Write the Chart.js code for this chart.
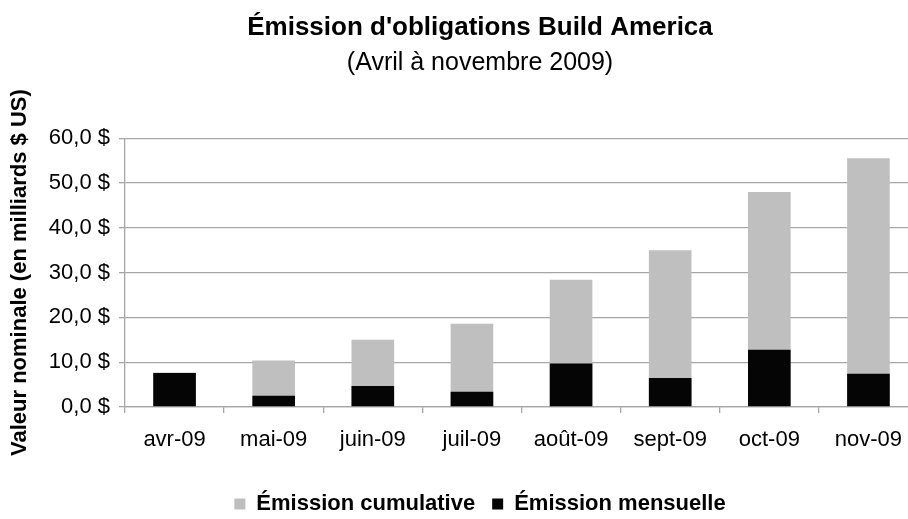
<!DOCTYPE html>
<html lang="fr">
<head>
<meta charset="utf-8">
<title>Émission d'obligations Build America</title>
<script src="https://cdn.jsdelivr.net/npm/chart.js@4.4.1/dist/chart.umd.min.js"></script>
<style>
  html, body { margin: 0; padding: 0; background: #ffffff; overflow: hidden; }
  #wrap { width: 908px; height: 519px; overflow: hidden; position: relative; }
  canvas { display: block; }
</style>
</head>
<body>
<div id="wrap"><canvas id="chart" width="960" height="525"></canvas></div>
<script>
// Mois de la période
const months = ['avr-09', 'mai-09', 'juin-09', 'juil-09', 'août-09', 'sept-09', 'oct-09', 'nov-09'];
// Émission cumulative (milliards $ US)
const cumulative = [7.7, 10.4, 15.0, 18.6, 28.4, 35.0, 48.0, 55.5];
// Émission mensuelle (milliards $ US)
const monthly = [7.6, 2.5, 4.7, 3.4, 9.7, 6.5, 12.8, 7.4];
// Graduations de l'axe des valeurs
const yTicks = [0, 10, 20, 30, 40, 50, 60];

const TITLE = "Émission d'obligations Build America";
const SUBTITLE = '(Avril à novembre 2009)';
const Y_TITLE = 'Valeur nominale (en milliards $ US)';

Chart.defaults.font.family = "'Liberation Sans', Arial, Helvetica, sans-serif";
Chart.defaults.color = '#000000';

const AXIS_GREY = '#a6a6a6';

new Chart(document.getElementById('chart'), {
  type: 'bar',
  data: {
    labels: months,
    datasets: [
      {
        label: 'Émission mensuelle',
        data: monthly,
        backgroundColor: '#050505',
        borderWidth: 0,
        grouped: false,
        categoryPercentage: 1,
        barPercentage: 0.43
      },
      {
        label: 'Émission cumulative',
        data: cumulative,
        backgroundColor: '#bfbfbf',
        borderWidth: 0,
        grouped: false,
        categoryPercentage: 1,
        barPercentage: 0.43
      }
    ]
  },
  options: {
    responsive: false,
    animation: false,
    layout: { padding: 0 },
    scales: {
      x: {
        offset: true,
        grid: {
          offset: true,
          drawOnChartArea: false,
          drawTicks: true,
          tickLength: 6,
          color: AXIS_GREY,
          lineWidth: 1.3
        },
        border: { display: true, color: AXIS_GREY, width: 1.3 },
        ticks: {
          font: { size: 22 },
          color: '#000000',
          padding: 14,
          maxRotation: 0,
          autoSkip: false
        },
        afterFit(scale) { scale.height = 69; }
      },
      y: {
        min: 0,
        max: 60,
        afterBuildTicks(scale) { scale.ticks = yTicks.map(v => ({ value: v })); },
        grid: {
          color: AXIS_GREY,
          lineWidth: 1.3,
          tickLength: 6
        },
        border: { display: true, color: AXIS_GREY, width: 1.3 },
        ticks: {
          font: { size: 22 },
          color: '#000000',
          padding: 9,
          callback: v => v.toFixed(1).replace('.', ',') + ' $'
        },
        title: {
          display: true,
          text: Y_TITLE,
          font: { size: 22, weight: 'bold' },
          color: '#000000',
          padding: { top: 7, bottom: 0 }
        },
        afterFit(scale) { scale.width = 125; }
      },
      // marge droite de la zone de traçage
      spacer: {
        type: 'linear',
        position: 'right',
        display: true,
        grid: { display: false, drawTicks: false },
        border: { display: false },
        ticks: { display: false },
        afterFit(scale) { scale.width = 42; }
      }
    },
    plugins: {
      title: {
        display: true,
        text: TITLE,
        font: { size: 26, weight: 'bold', lineHeight: 1.2 },
        color: '#000000',
        padding: { top: 12, bottom: 0 }
      },
      subtitle: {
        display: true,
        text: SUBTITLE,
        font: { size: 25, weight: 'normal', lineHeight: 1.2 },
        color: '#000000',
        padding: { top: 5, bottom: 60 }
      },
      legend: {
        position: 'bottom',
        labels: {
          boxWidth: 11,
          boxHeight: 11,
          padding: 17,
          font: { size: 22, weight: 'bold' },
          color: '#000000',
          sort: (a, b) => b.datasetIndex - a.datasetIndex
        }
      },
      tooltip: { enabled: false }
    }
  }
});
</script>
</body>
</html>
